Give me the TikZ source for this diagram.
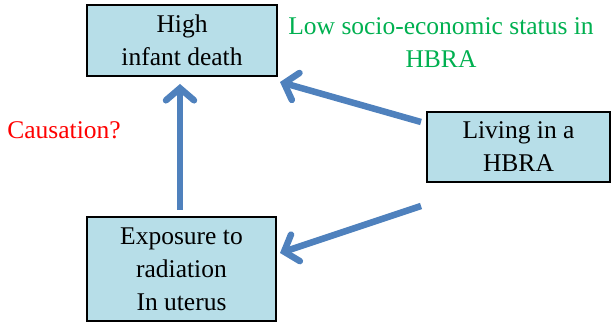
\documentclass[tikz,border=0pt]{standalone}
\usepackage{fontspec}
\setmainfont{Liberation Serif}
\usetikzlibrary{arrows.meta}
\definecolor{boxfill}{RGB}{183,222,232}
\definecolor{arrowblue}{RGB}{79,129,189}
\definecolor{labelgreen}{RGB}{0,176,80}
\tikzset{
  boxnode/.style={draw=black, line width=2pt, fill=boxfill, minimum width=#1, inner sep=0pt, align=center,
    font=\fontsize{25.5}{33}\selectfont},
  bigarrow/.style={draw=arrowblue, line width=6.5pt,
    -{Straight Barb[length=12pt, width=28pt, line cap=round]}},
  notetext/.style={font=\fontsize{25.5}{33}\selectfont, align=center, inner sep=0pt}
}
\begin{document}
\begin{tikzpicture}[x=1pt,y=-1pt]
\useasboundingbox (0,0) rectangle (611,323);
\node[boxnode=190pt, minimum height=71pt] (death) at (182,40.5) {High\\infant death};
\node[boxnode=189pt, minimum height=104pt] (expo) at (181.5,269) {Exposure to\\radiation\\In uterus};
\node[boxnode=183pt, minimum height=70pt] (hbra) at (518.5,147) {Living in a\\HBRA};
\node[notetext, text=labelgreen] (ses) at (441,43) {Low socio-economic status in\\HBRA};
\node[notetext, text=red] (cause) at (64,130) {Causation?};
\coordinate (v1) at (180,210);
\coordinate (v2) at (180,84);
\coordinate (t1) at (421,122);
\coordinate (h1) at (280,82);
\coordinate (t2) at (421,206);
\coordinate (h2) at (280,253);
\draw[bigarrow] (v1) -- (v2);
\draw[bigarrow] (t1) -- (h1);
\draw[bigarrow] (t2) -- (h2);
\end{tikzpicture}
\end{document}
